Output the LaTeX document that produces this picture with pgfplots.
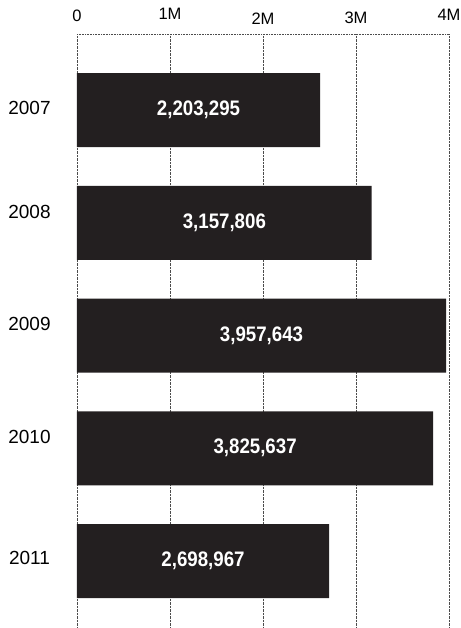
\documentclass[border=0pt]{standalone}
\usepackage{fontspec}
\setmainfont{Liberation Sans}
\newfontfamily\condbold[FakeStretch=0.89]{Liberation Sans Bold}
\usepackage{pgfplots}
\pgfplotsset{compat=1.18}
\definecolor{barc}{HTML}{231F20}
\newcommand{\rb}[2]{\raisebox{#1}[\height][\depth]{#2}}
\begin{document}
\begin{tikzpicture}
\begin{axis}[
 scale only axis, width=372pt, height=593.5pt,
 xmin=0, xmax=4000000,
 ymin=-0.670, ymax=4.594, y dir=reverse,
 axis x line*=top, axis y line*=left,
 x axis line style={-, densely dotted, black!70, line width=0.6pt},
 y axis line style={draw=none},
 xtick={0,1000000,2000000,3000000,4000000},
 xticklabels={\rb{1.5pt}{0},\rb{3.2pt}{1M},\rb{-1.2pt}{2M},\rb{-0.5pt}{3M},\rb{2.5pt}{4M}},
 scaled x ticks=false,
 ytick={-0.018,0.902,1.898,2.902,3.973},
 yticklabels={2007,2008,2009,2010,2011},
 major tick length=0pt,
 xmajorgrids, grid style={densely dotted, black!70, line width=0.6pt},
 xticklabel style={anchor=center, yshift=17pt, font=\fontsize{16.5}{16.5}\selectfont},
 yticklabel style={anchor=center, xshift=-47.5pt, font=\fontsize{19}{19}\selectfont},
]
\addplot[xbar, bar width=0.656, fill=barc, draw=none] coordinates {(2613000,0) (3169000,1) (3968000,2) (3830000,3) (2710000,4)};
\addplot[draw=none, mark=none, nodes near coords, point meta=explicit symbolic,
  nodes near coords style={anchor=center, text=white, font=\condbold\fontsize{21}{21}\selectfont}]
  table[x=x, y=y, meta=label] {
x y label
1306500 0 2,203,295
1584500 1 3,157,806
1984000 2 3,957,643
1915000 3 3,825,637
1355000 4 2,698,967
};
\end{axis}
\pgfresetboundingbox
\path ([xshift=-77pt,yshift=34.5pt]current axis.north west) rectangle ([xshift=11pt]current axis.south east);
\end{tikzpicture}
\end{document}
